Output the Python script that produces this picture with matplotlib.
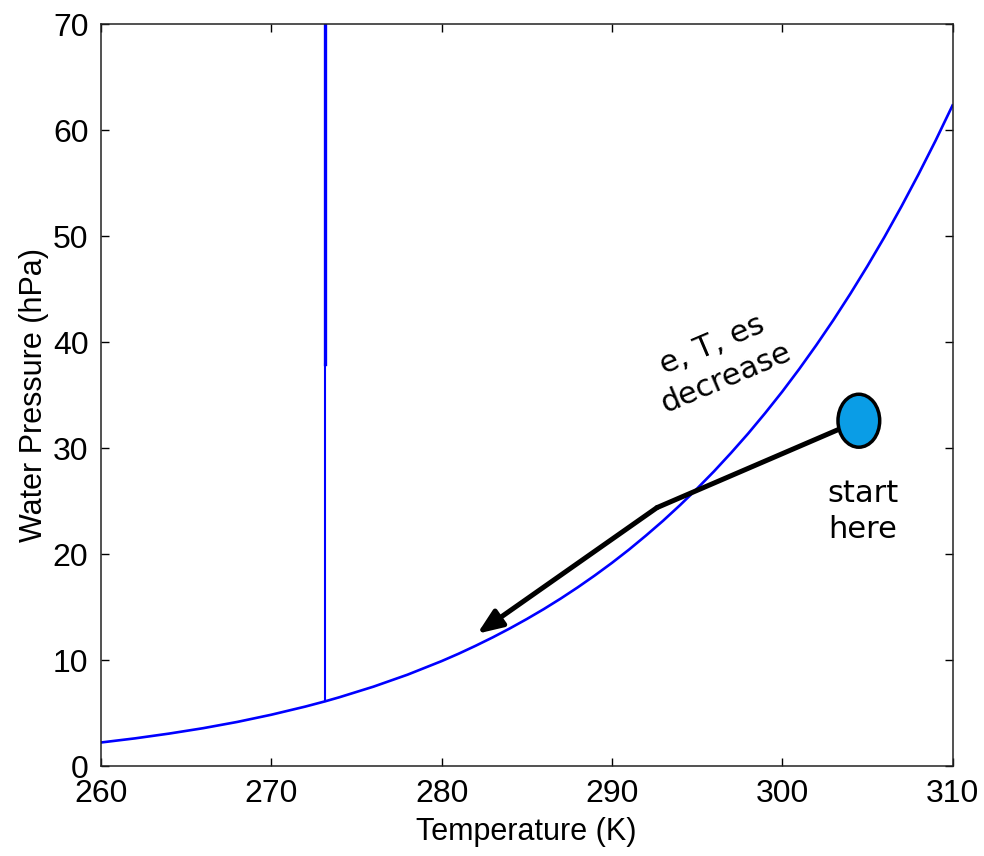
import matplotlib
matplotlib.use('Agg')
import matplotlib.pyplot as plt
from matplotlib.patches import Ellipse

# Saturation vapour pressure curve (K, hPa)
temp_k = [260, 262, 264, 266, 268, 270, 272, 273.15, 274, 276, 278, 280, 281, 282, 283,
          284, 285, 286, 287, 288, 289, 290, 291, 292, 293, 294, 295, 296, 297, 298,
          299, 300, 301, 302, 303, 304, 305, 306, 307, 308, 309, 310]
es_hpa = [2.23, 2.62, 3.07, 3.58, 4.17, 4.85, 5.62, 6.11, 6.50, 7.50, 8.63, 9.91, 10.61,
          11.36, 12.15, 12.99, 13.88, 14.82, 15.82, 16.88, 18.00, 19.18, 20.43, 21.76,
          23.15, 24.63, 26.19, 27.83, 29.57, 31.39, 33.32, 35.34, 37.48, 39.73, 42.09,
          44.58, 47.19, 49.93, 52.82, 55.85, 59.02, 62.36]

# Vertical line at the freezing point
freeze_t = 273.15
freeze_e = [6.11, 38.0, 70.0]

# Path of the air parcel: start -> kink -> arrow tip
path_t = [304.5, 292.65, 282.1]
path_e = [32.6, 24.4, 12.5]

plt.rcParams['font.family'] = ['Liberation Sans', 'DejaVu Sans']

fig = plt.figure(figsize=(9.84, 8.56), dpi=100)
ax = fig.add_axes([0.1026, 0.105, 0.8654, 0.8664])

ax.plot(temp_k, es_hpa, color='#0000ff', lw=1.9, zorder=2)
ax.plot([freeze_t, freeze_t], freeze_e[:2], color='#0000ff', lw=1.5, zorder=2)
ax.plot([freeze_t, freeze_t], freeze_e[1:], color='#0000ff', lw=2.4, zorder=2)

# Arrow: first segment as a line, second with the head
ax.plot(path_t[:2], path_e[:2], color='black', lw=3.6, solid_capstyle='round', zorder=3)
ax.annotate('', xy=(path_t[2], path_e[2]), xytext=(path_t[1], path_e[1]),
            arrowprops=dict(arrowstyle='-|>,head_length=1.5,head_width=0.6',
                            lw=3.6, color='black', shrinkA=0, shrinkB=0),
            zorder=3)

# Start marker (slightly taller than wide, like the reference)
ax.add_patch(Ellipse((path_t[0], path_e[0]), width=2.45, height=5.0,
                     facecolor='#0a9de6', edgecolor='black', lw=2.5, zorder=4))

ax.text(304.75, 24.0, 'start\nhere', family='DejaVu Sans', fontsize=22,
        ha='center', va='center', linespacing=1.3)
ax.text(296.3, 38.2, 'e, T, es\ndecrease', family='DejaVu Sans', fontsize=22,
        ha='center', va='center', rotation=23, linespacing=1.3)

ax.set_xlim(260, 310)
ax.set_ylim(0, 70)
ax.set_xticks(range(260, 311, 10))
ax.set_yticks(range(0, 71, 10))
ax.tick_params(direction='in', length=6, width=1.0, top=True, right=True,
               labelsize=23, pad=9)
for s in ax.spines.values():
    s.set_linewidth(1.1)
    s.set_color('#222222')

ax.set_xlabel('Temperature (K)', fontsize=22, labelpad=6)
ax.set_ylabel('Water Pressure (hPa)', fontsize=22, labelpad=3)

fig.savefig('out.png', dpi=100)
